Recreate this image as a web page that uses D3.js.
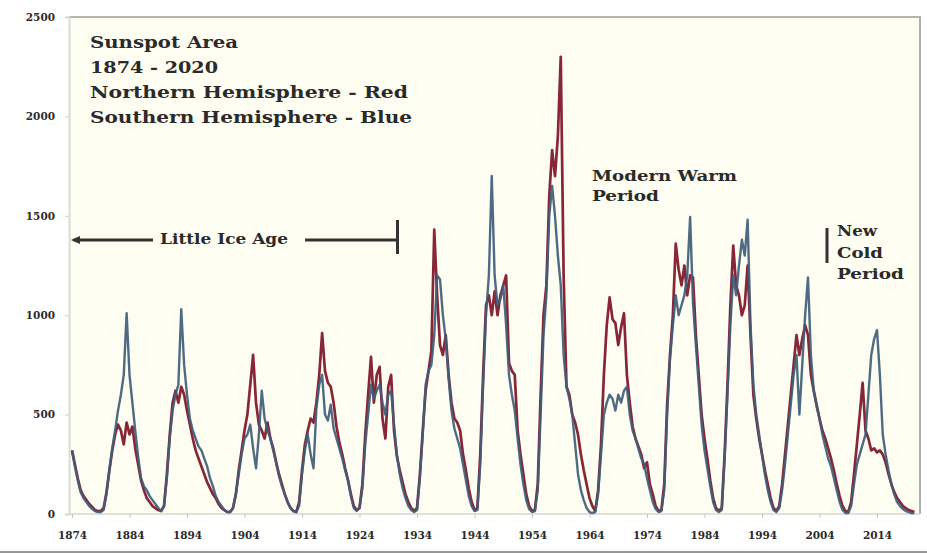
<!DOCTYPE html>
<html><head><meta charset="utf-8">
<script src="https://cdn.jsdelivr.net/npm/d3@7"></script>
<style>
html,body{margin:0;padding:0;background:#fff;}
svg{display:block;}
text{font-family:"DejaVu Serif","Liberation Serif",serif;font-weight:bold;fill:#2a2a2a;}
</style></head>
<body>
<svg id="chart" width="927" height="554"></svg>
<script>
// Half-year sampling grid 1874.0 .. 2020.5
const startYear = 1874, endYear = 2020.5, step = 0.5;

// Northern hemisphere (red) sunspot area, one line per decade (20 half-year values)
const north = [
  320,250,180,120,90,70,50,35,20,15,15,30,110,220,320,400,450,420,350,460,      // 1874
  400,440,330,250,170,120,80,60,40,30,20,15,40,200,400,560,620,560,640,600,     // 1884
  520,450,380,320,280,240,200,160,130,100,80,50,30,20,10,10,30,100,220,320,     // 1894
  420,500,650,800,560,450,420,380,460,380,330,260,200,150,100,60,30,15,10,60,   // 1904
  220,350,420,480,460,560,700,910,720,660,640,560,440,360,300,230,170,100,40,20,// 1914
  30,150,400,600,790,560,700,740,480,380,640,700,420,290,220,160,100,60,30,15,  // 1924
  30,200,420,620,720,820,1430,1100,850,800,900,700,560,480,460,420,300,220,130,60, // 1934
  20,30,300,700,1050,1100,1000,1120,1000,1100,1150,1200,760,720,700,420,300,200,100,40, // 1944
  15,20,150,600,1000,1150,1600,1830,1700,1900,2300,1200,640,600,500,460,400,300,220,150, // 1954
  80,40,15,120,350,700,950,1090,980,960,850,940,1010,700,560,440,380,340,300,230, // 1964
  260,150,100,40,15,20,150,550,800,1000,1360,1230,1150,1250,1100,1200,1190,900,700,500, // 1974
  380,280,170,80,30,15,30,300,650,1050,1350,1150,1100,1000,1050,1250,900,600,480,380, // 1984
  300,220,150,80,30,15,40,150,300,450,600,750,900,800,880,950,900,700,620,550,  // 1994
  480,420,380,330,280,220,150,90,40,15,10,60,200,350,500,660,420,380,320,330,   // 2004
  310,320,300,260,200,150,110,80,60,40,30,20,15,10                              // 2014
];

// Southern hemisphere (blue) sunspot area
const south = [
  320,240,170,110,80,60,40,25,15,10,10,20,100,220,330,420,520,600,700,1010,     // 1874
  700,560,420,290,180,140,120,90,70,50,30,15,40,180,380,520,600,650,1030,750,   // 1884
  600,480,420,380,340,320,280,240,180,140,90,60,40,20,10,10,30,100,200,300,     // 1894
  380,400,450,330,230,400,620,480,420,380,320,260,190,140,100,60,30,15,10,40,   // 1904
  200,320,400,300,230,530,650,700,500,470,550,430,380,330,280,220,170,90,30,15, // 1914
  30,130,350,500,650,580,620,650,560,500,600,620,450,300,200,130,80,40,20,10,   // 1924
  20,180,400,650,720,750,900,1200,1180,1000,880,680,520,430,380,330,250,170,90,40, // 1934
  15,20,250,650,1000,1200,1700,1200,1050,1080,1150,950,700,600,520,380,250,150,70,25, // 1944
  10,15,120,500,900,1100,1500,1650,1500,1300,1150,800,640,580,500,350,200,120,70,30, // 1954
  10,5,10,100,300,500,560,600,580,520,600,560,620,640,500,420,380,330,280,250,  // 1964
  180,120,60,25,10,15,120,500,780,950,1100,1000,1050,1100,1200,1494,1060,850,650,450, // 1974
  320,230,140,60,20,10,20,280,600,950,1200,1100,1250,1380,1300,1480,950,650,500,400, // 1984
  300,200,120,60,20,10,30,120,250,400,550,700,800,500,750,1000,1190,800,620,540, // 1994
  480,400,340,280,240,180,120,60,20,5,5,40,150,250,300,350,400,600,800,880,     // 2004
  925,700,400,300,220,150,100,60,40,25,15,10,5,5                                // 2014
];

const yTicks = [0, 500, 1000, 1500, 2000, 2500];
const xTicks = [1874, 1884, 1894, 1904, 1914, 1924, 1934, 1944, 1954, 1964, 1974, 1984, 1994, 2004, 2014];
const titleLines = ["Sunspot Area", "1874 - 2020", "Northern Hemisphere - Red", "Southern Hemisphere - Blue"];

const years = d3.range(startYear, endYear + 0.001, step);

const svg = d3.select("#chart");
const x = d3.scaleLinear().domain([1874, 2014]).range([72, 877]);
const y = d3.scaleLinear().domain([0, 2500]).range([514, 17]);

// plot background
svg.append("rect").attr("x", 69).attr("y", 17).attr("width", 851).attr("height", 497).attr("fill", "#fefdf1");
// top and right frame
svg.append("line").attr("x1", 69).attr("x2", 921).attr("y1", 17).attr("y2", 17).attr("stroke", "#b5b5b0").attr("stroke-width", 2);
svg.append("line").attr("x1", 920).attr("x2", 920).attr("y1", 17).attr("y2", 514).attr("stroke", "#b0b0ab").attr("stroke-width", 2);
// bottom border of image
svg.append("line").attr("x1", 0).attr("x2", 927).attr("y1", 552).attr("y2", 552).attr("stroke", "#9a9a9a").attr("stroke-width", 2);

// axes
const yAxis = svg.append("g").attr("transform", "translate(69,0)")
  .call(d3.axisLeft(y).tickValues(yTicks).tickSize(4).tickPadding(10).tickFormat(d3.format("d")));
yAxis.select(".domain").attr("stroke", "#dcdcd6").attr("stroke-width", 2);
yAxis.selectAll(".tick line").attr("stroke", "#d0d0ca");
yAxis.selectAll(".tick text").attr("font-size", 10.5).attr("fill", "#333")
  .style("font-family", "'DejaVu Serif',serif").style("font-weight", "bold");

const xAxis = svg.append("g").attr("transform", "translate(0,514)")
  .call(d3.axisBottom(x).tickValues(xTicks).tickSize(4).tickPadding(14).tickFormat(d3.format("d")));
xAxis.select(".domain").attr("stroke", "#d6d6d0").attr("stroke-width", 1.5).attr("d", "M69,0H920");
xAxis.selectAll(".tick line").attr("stroke", "#c8c8c2");
xAxis.selectAll(".tick text").attr("font-size", 10.5).attr("fill", "#333")
  .style("font-family", "'DejaVu Serif',serif").style("font-weight", "bold");

// series lines
const line = arr => d3.line().x((d, i) => x(years[i])).y(d => y(d)).curve(d3.curveLinear)(arr);
svg.append("path").attr("d", line(north)).attr("fill", "none").attr("stroke", "#862636").attr("stroke-width", 2.7).attr("stroke-linejoin", "round");
svg.append("path").attr("d", line(south)).attr("fill", "none").attr("stroke", "#405d7a").attr("stroke-width", 2.4).attr("stroke-linejoin", "round").attr("stroke-opacity", 0.92);

// title block
const titleWidths = [148, 128, 318, 322];
titleLines.forEach((t, i) => {
  svg.append("text").attr("x", 90).attr("y", 48 + i * 25).attr("font-size", 17)
    .attr("textLength", titleWidths[i]).attr("lengthAdjust", "spacingAndGlyphs").text(t);
});

// Little Ice Age annotation
const annColor = "#333";
svg.append("line").attr("x1", 74).attr("x2", 153).attr("y1", 240).attr("y2", 240).attr("stroke", annColor).attr("stroke-width", 3);
svg.append("path").attr("d", "M71,240 L80,236 L80,244 Z").attr("fill", annColor);
svg.append("text").attr("x", 160).attr("y", 244).attr("font-size", 15).attr("textLength", 128).attr("lengthAdjust", "spacingAndGlyphs").text("Little Ice Age");
svg.append("line").attr("x1", 305).attr("x2", 397).attr("y1", 240).attr("y2", 240).attr("stroke", annColor).attr("stroke-width", 3);
svg.append("line").attr("x1", 397.5).attr("x2", 397.5).attr("y1", 220).attr("y2", 254).attr("stroke", annColor).attr("stroke-width", 3);

// Modern Warm Period
svg.append("text").attr("x", 592).attr("y", 181).attr("font-size", 15).attr("textLength", 145).attr("lengthAdjust", "spacingAndGlyphs").text("Modern Warm");
svg.append("text").attr("x", 592).attr("y", 201).attr("font-size", 15).attr("textLength", 67).attr("lengthAdjust", "spacingAndGlyphs").text("Period");

// New Cold Period
svg.append("line").attr("x1", 827).attr("x2", 827).attr("y1", 228).attr("y2", 263).attr("stroke", annColor).attr("stroke-width", 3);
[["New", 236, 40], ["Cold", 258, 46], ["Period", 279, 67]].forEach(([t, yy, w]) => {
  svg.append("text").attr("x", 837).attr("y", yy).attr("font-size", 15).attr("textLength", w).attr("lengthAdjust", "spacingAndGlyphs").text(t);
});
</script>
</body></html>
